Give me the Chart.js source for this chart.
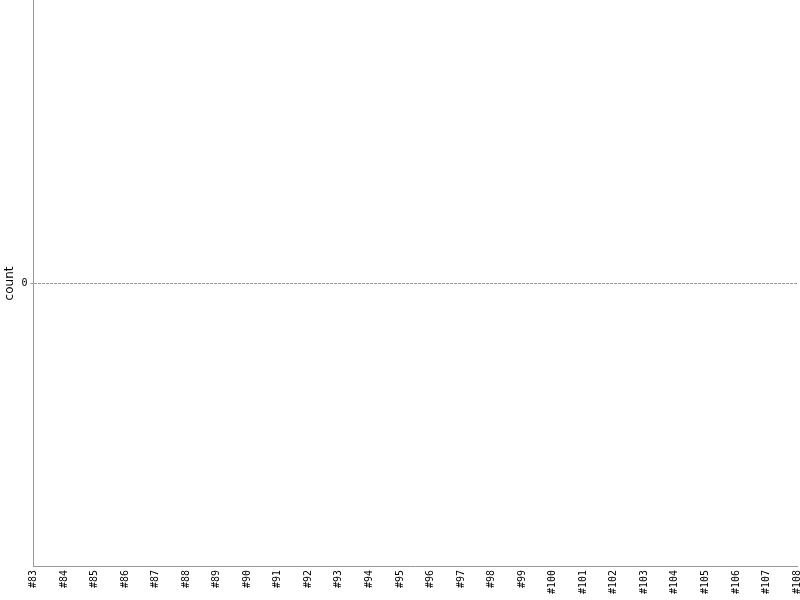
<!DOCTYPE html>
<html>
<head>
<meta charset="utf-8">
<script src="https://cdn.jsdelivr.net/npm/chart.js@4"></script>
<style>
  html, body { margin: 0; padding: 0; background: #fff; }
  #wrap { width: 800px; height: 600px; }
</style>
</head>
<body>
<div id="wrap"><canvas id="countChart"></canvas></div>
<script>
// Categories along the x axis
const categories = ['#83', '#84', '#85', '#86', '#87', '#88', '#89', '#90', '#91', '#92',
    '#93', '#94', '#95', '#96', '#97', '#98', '#99', '#100', '#101', '#102',
    '#103', '#104', '#105', '#106', '#107', '#108'];

// The chart has no plotted values
const counts = [null, null, null, null, null, null, null, null, null, null,
    null, null, null, null, null, null, null, null, null, null,
    null, null, null, null, null, null];

// Only one tick on the y axis
const yTicks = [0];

Chart.defaults.font.family = 'DejaVu Sans';
Chart.defaults.color = '#000';

document.addEventListener('DOMContentLoaded', function() {
    const ctx = document.getElementById('countChart');
    new Chart(ctx, {
        type: 'line',
        data: {
            labels: categories,
            datasets: [{
                label: 'count',
                data: counts,
                borderColor: '#4572a7',
                pointRadius: 0
            }]
        },
        options: {
            responsive: true,
            maintainAspectRatio: false,
            animation: false,
            layout: { padding: { top: 0, right: 3, bottom: 3, left: 2 } },
            plugins: {
                legend: { display: false },
                tooltip: { enabled: false }
            },
            scales: {
                x: {
                    offset: false,
                    afterFit: function(axis) {
                        axis.paddingLeft = 0;
                        axis.paddingRight = 0;
                    },
                    grid: { display: false, drawTicks: false },
                    border: { display: true, color: '#999' },
                    ticks: {
                        autoSkip: false,
                        minRotation: 90,
                        maxRotation: 90,
                        padding: 3,
                        font: { family: 'DejaVu Sans Mono', size: 10 }
                    }
                },
                y: {
                    min: -1,
                    max: 1,
                    afterBuildTicks: function(axis) {
                        axis.ticks = yTicks.map(v => ({ value: v }));
                    },
                    afterFit: function(axis) {
                        axis.paddingTop = 0;
                        axis.paddingBottom = 0;
                    },
                    grid: {
                        color: '#999',
                        drawTicks: true,
                        tickLength: 3,
                        tickBorderDash: []
                    },
                    border: { display: true, color: '#999', dash: [3, 1] },
                    ticks: { padding: 3, font: { family: 'DejaVu Sans Mono', size: 10 } },
                    title: {
                        display: true,
                        text: 'count',
                        font: { size: 12 },
                        padding: { top: 1, bottom: 1 }
                    }
                }
            }
        }
    });
});
</script>
</body>
</html>
